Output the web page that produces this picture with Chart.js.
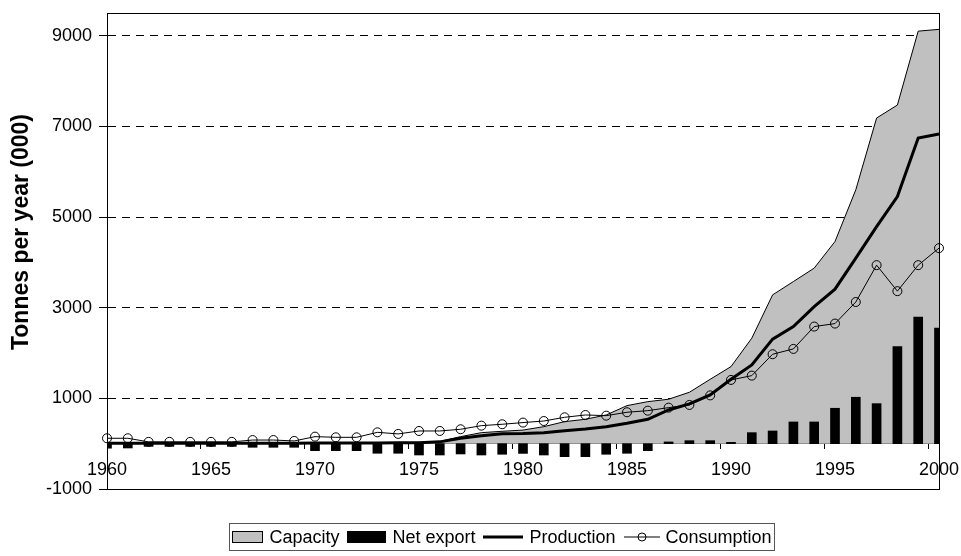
<!DOCTYPE html>
<html>
<head>
<meta charset="utf-8">
<script src="https://cdn.jsdelivr.net/npm/chart.js@4/dist/chart.umd.min.js"></script>
<style>
  html, body { margin: 0; padding: 0; background: #fff; }
  #wrap { position: relative; width: 961px; height: 556px; }
  #c { position: absolute; left: 0; top: 0; }
  #legend {
    position: absolute; left: 229px; top: 523px; width: 546px; height: 28px;
    box-sizing: border-box; border: 1px solid #555;
    font: 18px "Liberation Sans", Arial, sans-serif; color: #000;
    display: flex; align-items: center; justify-content: center; white-space: nowrap;
  }
  #legend .item { display: flex; align-items: center; margin: 0 4px; }
  #legend svg { margin-right: 6px; display: block; }
</style>
</head>
<body>
<div id="wrap">
  <canvas id="c" width="961" height="556"></canvas>
  <div id="legend"></div>
</div>
<script>
// ---- data ----
const years = [];
for (let y = 1960; y <= 2000; y++) years.push(y);

const seriesNames = ["Capacity", "Net export", "Production", "Consumption"];

const capacity = [20,20,20,20,20,20,20,20,20,20,
                  20,20,20,20,20,20,50,155,243,273,
                  300,375,486,538,633,839,927,980,1134,1420,
                  1700,2327,3282,3576,3872,4459,5600,7183,7470,9100,
                  9139];

const netExport = [-100,-95,-60,-60,-60,-60,-60,-80,-80,-80,
                   -155,-155,-155,-212,-212,-250,-250,-227,-250,-234,
                   -215,-250,-287,-287,-234,-212,-155,38,66,66,
                   30,243,280,479,479,781,1024,883,2141,2790,
                   2547];

const production = [10,10,10,10,10,10,10,10,10,10,
                     15,15,15,15,20,20,40,120,177,220,
                     225,243,287,324,375,450,538,744,876,1075,
                     1420,1737,2305,2583,3024,3408,4093,4786,5452,6740,
                     6830];

const consumption = [119,119,40,40,40,40,40,80,80,60,
                     155,140,140,250,215,280,280,318,397,428,
                     465,500,582,633,618,693,728,795,854,1065,
                     1406,1501,1973,2090,2583,2649,3125,3938,3364,3938,
                     4313];

const yTicks = [-1000, 1000, 3000, 5000, 7000, 9000];
const yTitle = "Tonnes per year (000)";

// ---- chart ----
const FONT = "'Liberation Sans', Arial, sans-serif";

const framePlugin = {
  id: 'frame',
  afterDraw(chart) {
    const {ctx, chartArea: a} = chart;
    ctx.save();
    ctx.strokeStyle = '#000';
    ctx.lineWidth = 1;
    ctx.strokeRect(Math.round(a.left) + 0.5, Math.round(a.top) + 0.5,
                   Math.round(a.right - a.left), Math.round(a.bottom - a.top));
    // y axis title
    ctx.translate(22, 232);
    ctx.rotate(-Math.PI / 2);
    ctx.fillStyle = '#000';
    ctx.font = "bold 23px " + FONT;
    ctx.textAlign = 'center';
    ctx.textBaseline = 'middle';
    ctx.fillText(yTitle, 0, 0);
    ctx.restore();
  }
};

const chart = new Chart(document.getElementById('c'), {
  data: {
    labels: years.map(String),
    datasets: [
      { type: 'line', label: seriesNames[0], data: capacity, fill: 'origin',
        backgroundColor: '#c0c0c0', borderColor: '#000', borderWidth: 1,
        pointRadius: 0, tension: 0, order: 4 },
      { type: 'bar', label: seriesNames[1], data: netExport,
        backgroundColor: '#000', borderWidth: 0, barThickness: 9, order: 3 },
      { type: 'line', label: seriesNames[2], data: production, fill: false,
        borderColor: '#000', borderWidth: 3, pointRadius: 0, tension: 0, order: 2 },
      { type: 'line', label: seriesNames[3], data: consumption, fill: false,
        borderColor: '#000', borderWidth: 1, tension: 0, order: 1,
        pointRadius: 4.5, pointStyle: 'circle', pointBackgroundColor: 'rgba(0,0,0,0)',
        pointBorderColor: '#000', pointBorderWidth: 1 }
    ]
  },
  options: {
    responsive: false,
    animation: false,
    devicePixelRatio: 1,
    layout: { padding: { left: 0, right: 22, top: 13, bottom: 67 } },
    plugins: { legend: { display: false }, tooltip: { enabled: false } },
    scales: {
      x: {
        type: 'category',
        position: { y: 0 },
        offset: false,
        z: 1,
        afterFit: (s) => { s.paddingLeft = 0; s.paddingRight = 0; s.paddingTop = 0; s.paddingBottom = 0; },
        grid: {
          drawOnChartArea: false, drawTicks: true, tickLength: 5,
          tickColor: (c) => (c.index % 5 === 0 ? '#000' : 'rgba(0,0,0,0)')
        },
        border: { color: '#000', width: 1 },
        ticks: {
          autoSkip: false, maxRotation: 0, minRotation: 0, padding: 11,
          color: '#000', font: { family: FONT, size: 18 },
          callback: (v, i) => (i % 5 === 0 ? String(years[i]) : '')
        }
      },
      y: {
        min: -1000, max: 9500,
        afterBuildTicks: (s) => { s.ticks = yTicks.map(v => ({ value: v })); },
        afterFit: (s) => { s.width = 107; s.paddingTop = 0; s.paddingBottom = 0; },
        grid: { color: '#000', lineWidth: 1, tickLength: 8, tickColor: '#000' },
        border: { dash: [8, 6], color: '#000', width: 1 },
        ticks: { padding: 7, color: '#000', font: { family: FONT, size: 18 },
                 callback: (v) => String(v) }
      }
    }
  },
  plugins: [framePlugin]
});

// ---- legend (HTML) ----
const symbols = [
  '<svg width="31" height="12"><rect x="0.5" y="0.5" width="30" height="11" fill="#c0c0c0" stroke="#000"/></svg>',
  '<svg width="39" height="12"><rect x="0" y="0" width="39" height="12" fill="#000"/></svg>',
  '<svg width="40" height="12"><line x1="0" y1="6" x2="40" y2="6" stroke="#000" stroke-width="3"/></svg>',
  '<svg width="36" height="12"><line x1="0" y1="6" x2="36" y2="6" stroke="#000" stroke-width="1"/><circle cx="18" cy="6" r="4" fill="none" stroke="#000" stroke-width="1"/></svg>'
];
const leg = document.getElementById('legend');
chart.data.datasets.forEach((ds, i) => {
  const it = document.createElement('div');
  it.className = 'item';
  it.innerHTML = symbols[i] + '<span>' + ds.label + '</span>';
  leg.appendChild(it);
});
</script>
</body>
</html>
